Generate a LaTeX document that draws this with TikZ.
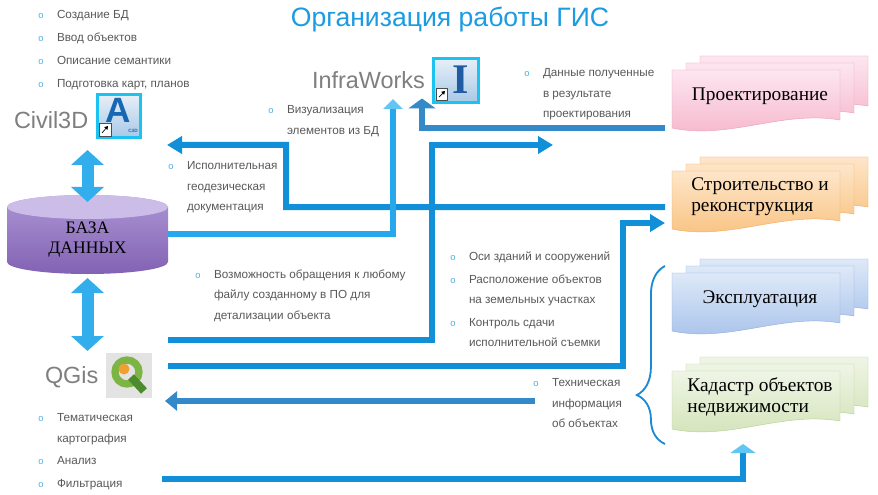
\documentclass[tikz,border=0pt]{standalone}
\usepackage{fontspec}
\setmainfont{Liberation Serif}
\setsansfont{Liberation Sans}
\usetikzlibrary{arrows.meta,calc,decorations.pathreplacing}

\definecolor{ttlc}{HTML}{1B9CE2}
\definecolor{textgray}{HTML}{595959}
\definecolor{toolgray}{HTML}{7F7F7F}
\definecolor{bulletc}{HTML}{4DB0E2}
\definecolor{connc}{HTML}{1190D9}
\definecolor{darkc}{HTML}{3489C8}
\definecolor{lightc}{HTML}{27A8EC}
\definecolor{tipl}{HTML}{62C6F4}
\definecolor{dblc}{HTML}{33AEEC}
\definecolor{bracec}{HTML}{1A8AD3}
\definecolor{dbtop}{HTML}{AC95D4}
\definecolor{dbbot}{HTML}{8262B4}
\definecolor{dbcap}{HTML}{CBBCE8}
\definecolor{cyanb}{HTML}{1CC3F1}
\definecolor{iconT}{HTML}{E6EFF8}
\definecolor{iconB}{HTML}{A7C8E6}
\definecolor{adark}{HTML}{1767B3}
\definecolor{idark}{HTML}{1F5CA3}
\definecolor{qbg}{HTML}{E3E3E3}
\definecolor{qgreen}{HTML}{7DB544}
\definecolor{qdark}{HTML}{4E8B2E}
\definecolor{qorange}{HTML}{F0A030}
\definecolor{pk1}{HTML}{FDE6EF}\definecolor{pk2}{HTML}{F5B5CB}\definecolor{pk3}{HTML}{EDA3BD}
\definecolor{or1}{HTML}{FEE6CA}\definecolor{or2}{HTML}{F8C07C}\definecolor{or3}{HTML}{F2AE63}
\definecolor{bl1}{HTML}{DEE9F8}\definecolor{bl2}{HTML}{A5C0EA}\definecolor{bl3}{HTML}{92B0DF}
\definecolor{gr1}{HTML}{EFF5E6}\definecolor{gr2}{HTML}{D1E2B6}\definecolor{gr3}{HTML}{BAD196}

\newcommand{\blt}{\llap{\textcolor{bulletc}{\fontsize{8}{8}\selectfont o}\hspace{11.5pt}}}

\begin{document}
\begin{tikzpicture}[x=0.3mm,y=-0.3mm,
  note/.style={anchor=north west,inner sep=0,outer sep=0,align=left,text=textgray,
    font={\sffamily\fontsize{10}{17.5}\selectfont}},
  tool/.style={anchor=west,inner sep=0,outer sep=0,text=toolgray,
    font={\sffamily\fontsize{20}{20}\selectfont}},
  icon/.style={minimum width=12.9mm,minimum height=12.9mm,inner sep=0,outer sep=0},
  sheetbox/.style={minimum width=50.4mm,minimum height=17.4mm,inner sep=0,outer sep=0},
  boxtext/.style={inner sep=0,align=left,font={\fontsize{16.5}{18}\selectfont}},
  conn/.style={line width=1.8mm,draw=connc,-{Triangle[width=5.1mm,length=4.5mm]}},
  dbl/.style={line width=3.6mm,draw=dblc,
    {Triangle[width=9.6mm,length=4.5mm]}-{Triangle[width=9.6mm,length=4.5mm]}}]

  \path[use as bounding box,fill=white] (0,0) rectangle (878,495);

  % title
  \node[anchor=base,text=ttlc,font={\sffamily\fontsize{22.7}{24}\selectfont}] (ttl) at (450,27)
    {Организация работы ГИС};

  % stacked sheets
  \foreach \n/\yy/\col/\lbl in {proj/70/pk/{Проектирование},
      stroi/171/or/{Строительство и\\реконструкция},
      expl/273/bl/{Эксплуатация},
      kad/371/gr/{Кадастр объектов\\недвижимости}}{
    \foreach \dx/\dy in {28/-14,14/-7,0/0}
      \draw[draw=\col3,top color=\col1,bottom color=\col2]
        (672+\dx,\yy+\dy) -- (840+\dx,\yy+\dy) -- (840+\dx,\yy+\dy+50)
        .. controls (782+\dx,\yy+\dy+40) and (730+\dx,\yy+\dy+70) .. (672+\dx,\yy+\dy+58) -- cycle;
    \node[sheetbox] (\n) at (756,\yy+29) {};
    \node[boxtext] (\n-t) at (760,\yy+26) {\lbl};
  }

  % data base
  \shade[top color=dbtop,bottom color=dbbot] (7,207) -- (7,262)
    arc[start angle=180,end angle=0,x radius=80.5,y radius=12] -- (168,207)
    arc[start angle=360,end angle=180,x radius=80.5,y radius=12] -- cycle;
  \fill[dbcap] (87.5,207) ellipse[x radius=80.5,y radius=12];
  \node[minimum width=48.3mm,minimum height=20.1mm,inner sep=0,outer sep=0,align=center,
    font={\fontsize{15}{17}\selectfont}] (db) at (87.5,240) {БАЗА\\ДАННЫХ};

  % programs
  \node[tool] (civ) at (14,120) {Civil3D};
  \node[icon,draw=cyanb,line width=0.9mm,top color=iconT,bottom color=iconB] (civicon) at (118.5,116.5) {};
  \node[text=adark,font={\sffamily\bfseries\fontsize{30}{30}\selectfont}] (civA) at (118,110) {A};
  \node[text=adark,font={\sffamily\bfseries\fontsize{4}{4}\selectfont}] (civC) at (133,130.5) {C3D};
  \draw[fill=white,draw=black!70,line width=0.3pt] (99,123) rectangle (111,136);
  \draw[black,line width=0.6pt,-{Triangle[width=1.2mm,length=1mm]}] (102,133) -- (108,126);

  \node[tool] (infra) at (312,80) {InfraWorks};
  \node[icon,draw=cyanb,line width=0.9mm,top color=iconT,bottom color=iconB,
    minimum width=13.5mm,minimum height=13.2mm] (infraicon) at (456,81) {};
  \node[text=idark,font={\rmfamily\bfseries\fontsize{36}{36}\selectfont}] (infI) at (461,80) {I};
  \draw[fill=white,draw=black!70,line width=0.3pt] (436,88) rectangle (447,100);
  \draw[black,line width=0.6pt,-{Triangle[width=1.2mm,length=1mm]}] (439,97) -- (445,91);

  \node[tool] (qgis) at (45,377) {QGis};
  \node[icon,fill=qbg,minimum width=13.8mm,minimum height=13.5mm] (qgisicon) at (129,375.5) {};
  \draw[qgreen,line width=2.2mm] (127,372) circle (12);
  \draw[qdark,line width=2.4mm] (131,377) -- (144,391);
  \fill[qorange] (124,369) circle (5.5);

  % notes
  \node[note] (civtxt) at (57,10.5) {\blt Создание БД\\[2pt]\blt Ввод объектов\\[2pt]%
    \blt Описание семантики\\[2pt]\blt Подготовка карт, планов};
  \node[note] (viztxt) at (287,105.5) {\blt Визуализация\\элементов из БД};
  \node[note] (isptxt) at (187,161.5) {\blt Исполнительная\\геодезическая\\документация};
  \node[note] (voztxt) at (214,269.5) {\blt Возможность обращения к любому\\файлу созданному в ПО для\\детализации объекта};
  \node[note] (dantxt) at (543,68.5) {\blt Данные полученные\\в результате\\проектирования};
  \node[note] (ositxt) at (469,251.5) {\blt Оси зданий и сооружений\\[2pt]\blt Расположение объектов\\на земельных участках\\[2pt]%
    \blt Контроль сдачи\\исполнительной съемки};
  \node[note] (tehtxt) at (552,378.5) {\blt Техническая\\информация\\об объектах};
  \node[note] (qgtxt) at (57,413.5) {\blt Тематическая\\картография\\[2pt]\blt Анализ\\[2pt]\blt Фильтрация};

  \coordinate (dbq) at (168,340);
  \coordinate (mid) at (553,145);
  \coordinate (qgout) at (162,479);

  % connectors
  \draw[conn,shorten <=2.1mm] ($(stroi.west)+(0,7)$) -| ++(-386,-62) -- ($(civicon.south east)+(27,7)$);
  \draw[conn,draw=lightc,-{Triangle[width=5.7mm,length=3mm,color=tipl]}]
    ($(db.east)+(0,-6)$) -| ($(infraicon.south west)+(-40.5,-4)$);
  \draw[conn,draw=darkc,-{Triangle[width=8.1mm,length=3mm]},shorten <=2.1mm]
    (proj.south west) -| ($(infraicon.south west)+(-11.5,-4.5)$);
  \draw[conn] (dbq) -| ++(264,-195) -- (mid);
  \draw[conn,shorten >=2.1mm] ($(qgisicon.east)+(16,-9.5)$) -| ++(455,-143) -- ($(stroi.west)+(0,23)$);
  \draw[conn,draw=darkc,-{Triangle[width=5.7mm,length=3.6mm]}]
    ($(tehtxt.north west)+(-17,22.5)$) -- ($(qgisicon.east)+(13,25.5)$);
  \draw[conn,-{Triangle[width=7.5mm,length=2.7mm,color=tipl]}] (qgout) -| ($(kad.south)+(-13,15)$);

  \draw[dbl] ($(db.north)+(0,-56.5)$) -- ($(db.north)+(0,-4.5)$);
  \draw[dbl] ($(db.south)+(0,4.5)$) -- ($(db.south)+(0,77.5)$);

  % brace
  \draw[bracec,line width=0.55mm,decorate,decoration={brace,amplitude=24pt,aspect=0.275}]
    ($(kad.south west)+(-7,15)$) -- ($(expl.north west)+(-7,-7)$);

\end{tikzpicture}
\end{document}
